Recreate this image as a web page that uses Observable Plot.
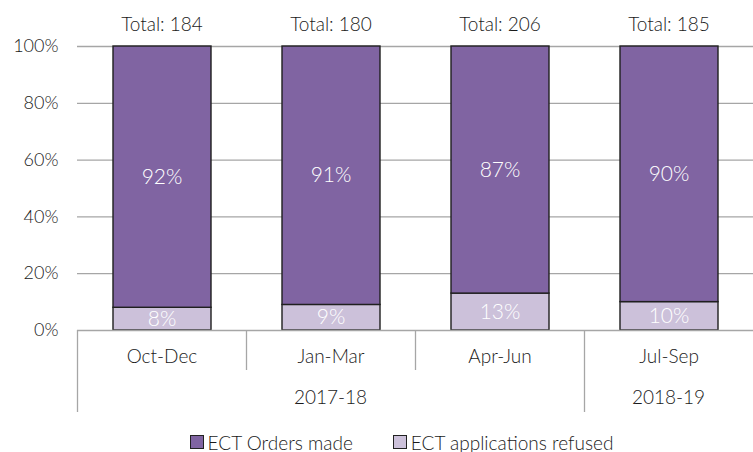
<!DOCTYPE html>
<html><head><meta charset="utf-8">
<script src="https://cdn.jsdelivr.net/npm/d3@7"></script>
<script src="https://cdn.jsdelivr.net/npm/@observablehq/plot@0.6"></script>
<style>
body{margin:0;background:#fff;font-family:Lato,sans-serif}
svg text{font-weight:300}
#legend{width:753px;height:32px;display:flex;justify-content:center;align-items:center;padding-left:50px;padding-top:12px;box-sizing:border-box;font-size:19px;font-weight:300;color:#1a1a1a;gap:40px}
#legend .it{display:flex;align-items:center;gap:4px}
#legend .sw{width:14px;height:14px;border:1.3px solid #222;box-sizing:border-box}
</style>
</head><body><div id="chart"></div><div id="legend"></div>
<script>
const quarters = ["Oct-Dec","Jan-Mar","Apr-Jun","Jul-Sep"];
const years = ["2017-18","2017-18","2017-18","2018-19"];
const totals = [184,180,206,185];
const ordersMade = [92,91,87,90];
const refused = [8,9,13,10];
const seriesNames = ["ECT Orders made","ECT applications refused"];
const colors = ["#8064A2","#CCC1DA"];
const yTicks = [0,20,40,60,80,100];

const data = [];
quarters.forEach((q,i)=>{
  data.push({q, s:seriesNames[1], v:refused[i]});
  data.push({q, s:seriesNames[0], v:ordersMade[i]});
});
const totalRows = quarters.map((q,i)=>({q, t:"Total: "+totals[i], top:100}));

function categoryAxis(index, scales, values, dim) {
  const g = d3.create("svg:g").attr("font-family","Lato, sans-serif").attr("font-size",19).attr("fill","#1a1a1a");
  const x0 = dim.marginLeft, x1 = dim.width - dim.marginRight;
  const step = (x1 - x0) / quarters.length;
  const yBase = dim.height - dim.marginBottom;
  const bandStart = q => scales.x(q);
  quarters.forEach((q,i)=>{
    const xs = Math.round(bandStart(q)) + 0.5;
    const long = i === 0 || years[i] !== years[i-1];
    g.append("line").attr("x1",xs).attr("x2",xs).attr("y1",yBase).attr("y2",yBase + (long ? 82 : 40))
      .attr("stroke","#a6a6a6").attr("stroke-width",1.3);
  });
  const groups = d3.groups(quarters.map((q,i)=>({q,y:years[i]})), d=>d.y);
  for (const [yr, qs] of groups) {
    const a = bandStart(qs[0].q), b = bandStart(qs[qs.length-1].q) + step;
    g.append("text").attr("x",(a+b)/2).attr("y",yBase+67).attr("text-anchor","middle").attr("dy","0.35em").text(yr);
  }
  return g.node();
}

const chart = Plot.plot({
  width: 753, height: 420,
  marginLeft: 77, marginRight: 0, marginTop: 46, marginBottom: 90,
  style: {fontFamily: "Lato, sans-serif", fontSize: "19px", color: "#1a1a1a", background: "#fff"},
  x: {domain: quarters, padding: 0, label: null},
  y: {domain: [0,100], ticks: yTicks, tickFormat: d => d + "%", label: null},
  color: {domain: seriesNames, range: colors},
  marks: [
    Plot.ruleY(yTicks.filter(d=>d>0), {stroke:"#a6a6a6", strokeWidth:1.3}),
    Plot.axisY({ticks: yTicks, tickFormat: d => d + "%", tickSize: 0, tickPadding: 19, fontSize: 18, fill:"#1a1a1a"}),
    Plot.axisX({tickSize: 0, tickPadding: 19, fontSize: 19, fill:"#1a1a1a"}),
    Plot.barY(data, Plot.stackY({x:"q", y:"v", fill:"s", insetLeft:36, insetRight:35, stroke:"#1f1f1f", strokeWidth:1.4})),
    Plot.text(data, Plot.stackY({x:"q", y:"v", text: d => d.v + "%", fill:"white", fontSize:21})),
    Plot.text(totalRows, {x:"q", y:"top", text:"t", lineAnchor:"bottom", dy:-16, fontSize:19, fill:"#1a1a1a"}),
    Plot.ruleY([0], {stroke:"#a6a6a6", strokeWidth:1.5}),
    categoryAxis
  ]
});
document.getElementById("chart").appendChild(chart);

const lg = document.getElementById("legend");
seriesNames.forEach((n,i)=>{
  const it = document.createElement("div"); it.className="it";
  const sw = document.createElement("div"); sw.className="sw"; sw.style.background = colors[i];
  const tx = document.createElement("span"); tx.textContent = n;
  it.appendChild(sw); it.appendChild(tx); lg.appendChild(it);
});
</script>
</body></html>
